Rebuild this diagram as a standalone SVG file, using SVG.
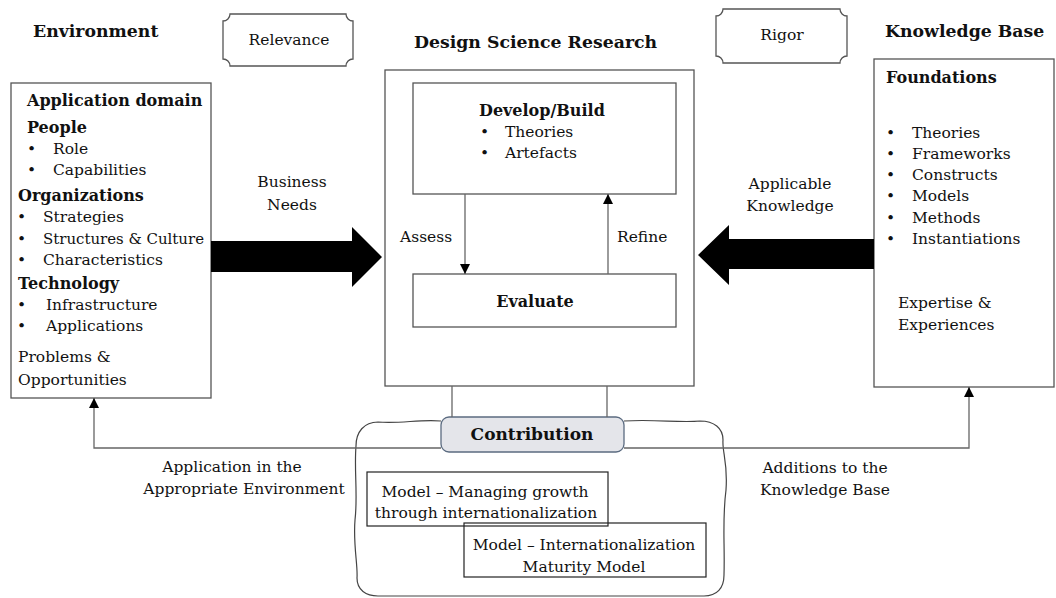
<svg xmlns="http://www.w3.org/2000/svg" width="1056" height="598" viewBox="0 0 1056 598">
  <style>
    text { font-family: "DejaVu Serif", "Liberation Serif", serif; font-size: 15.5px; fill: #111; }
    .b { font-weight: bold; font-size: 16px; }
    .title { font-weight: bold; font-size: 17.3px; }
    .mid { text-anchor: middle; }
    .box { fill: none; stroke: #555; stroke-width: 1.3; }
    .wire { fill: none; stroke: #666; stroke-width: 1.3; }
    .fat { fill: #000; stroke: none; }
  </style>
  <defs>
    <marker id="tip" viewBox="0 0 10 10" refX="10" refY="5" markerWidth="10" markerHeight="10" markerUnits="userSpaceOnUse" orient="auto">
      <path d="M0,0 L10,5 L0,10 Z" fill="#000"/>
    </marker>
  </defs>
  <rect width="1056" height="598" fill="#fff"/>

  <!-- column headings -->
  <g id="headings">
    <text class="title" x="33" y="37">Environment</text>
    <text class="title" x="414" y="48">Design Science Research</text>
    <text class="title" x="885" y="37">Knowledge Base</text>
  </g>

  <!-- plaque labels -->
  <g id="relevance">
    <path class="box" d="M230,14 H346 A7,7 0 0 0 353,21 V59 A7,7 0 0 0 346,66 H230 A7,7 0 0 0 223,59 V21 A7,7 0 0 0 230,14 Z"/>
    <text class="mid" x="289" y="45">Relevance</text>
  </g>
  <g id="rigor">
    <path class="box" d="M723,9 H840 A7,7 0 0 0 847,16 V56 A7,7 0 0 0 840,63 H723 A7,7 0 0 0 716,56 V16 A7,7 0 0 0 723,9 Z"/>
    <text class="mid" x="782" y="40">Rigor</text>
  </g>

  <!-- environment -->
  <g id="environment">
    <rect class="box" x="11" y="83" width="200" height="315"/>
    <text class="b" x="27" y="106">Application domain</text>
    <text class="b" x="27" y="133">People</text>
    <text x="27" y="154">•</text><text x="53" y="154">Role</text>
    <text x="27" y="175">•</text><text x="53" y="175">Capabilities</text>
    <text class="b" x="18" y="201">Organizations</text>
    <text x="17" y="222">•</text><text x="43" y="222">Strategies</text>
    <text x="17" y="244">•</text><text x="43" y="244" textLength="161" lengthAdjust="spacingAndGlyphs">Structures &amp; Culture</text>
    <text x="17" y="265">•</text><text x="43" y="265">Characteristics</text>
    <text class="b" x="18" y="289">Technology</text>
    <text x="17" y="310">•</text><text x="46" y="310">Infrastructure</text>
    <text x="17" y="331">•</text><text x="46" y="331">Applications</text>
    <text x="18" y="362">Problems &amp;</text>
    <text x="18" y="385">Opportunities</text>
  </g>

  <!-- design science research -->
  <g id="dsr">
    <rect class="box" x="385" y="70" width="309" height="316"/>
  </g>
  <g id="develop">
    <rect class="box" x="413" y="83" width="263" height="111"/>
    <text class="b" x="479" y="116">Develop/Build</text>
    <text x="480" y="137">•</text><text x="505" y="137">Theories</text>
    <text x="480" y="158">•</text><text x="505" y="158">Artefacts</text>
  </g>
  <g id="evaluate">
    <rect class="box" x="413" y="274" width="263" height="53"/>
    <text class="b mid" x="535" y="307">Evaluate</text>
  </g>

  <!-- knowledge base -->
  <g id="knowledge">
    <rect class="box" x="874" y="59" width="180" height="328"/>
    <text class="b" x="886" y="83">Foundations</text>
    <text x="886" y="138">•</text><text x="912" y="138">Theories</text>
    <text x="886" y="159">•</text><text x="912" y="159">Frameworks</text>
    <text x="886" y="180">•</text><text x="912" y="180">Constructs</text>
    <text x="886" y="201">•</text><text x="912" y="201">Models</text>
    <text x="886" y="223">•</text><text x="912" y="223">Methods</text>
    <text x="886" y="244">•</text><text x="912" y="244">Instantiations</text>
    <text x="898" y="308">Expertise &amp;</text>
    <text x="898" y="330">Experiences</text>
  </g>

  <!-- contribution area -->
  <g id="contribution">
    <path fill="none" stroke="#444" stroke-width="1.2" d="M441,421 C420,419 400,424 378,422 C364,422 356,432 356,446 C354,470 358,495 355,520 C353,545 358,565 357,578 C357,590 366,596 378,596 L704,596 C717,596 724,588 724,575 C725,545 722,520 726,490 C728,462 722,452 723,440 C723,428 714,421 700,421 C680,423 655,419 624,421"/>
    <rect x="441" y="417" width="183" height="35" rx="8" fill="#e4e5ea" stroke="#5b6b80" stroke-width="1.3"/>
    <text class="b mid" x="532" y="440" style="font-size:17px">Contribution</text>
  </g>
  <g id="model-growth">
    <rect x="367" y="472" width="241" height="54" fill="none" stroke="#222" stroke-width="1.2"/>
    <text class="mid" x="485" y="497">Model – Managing growth</text>
    <text class="mid" x="486" y="518">through internationalization</text>
  </g>
  <g id="model-maturity">
    <rect x="464" y="523" width="242" height="54" fill="none" stroke="#222" stroke-width="1.2"/>
    <text class="mid" x="584" y="550">Model – Internationalization</text>
    <text class="mid" x="584" y="572">Maturity Model</text>
  </g>

  <!-- connectors -->
  <g id="connectors">
    <path class="fat" d="M211,241 H352 V227 L382,257 L352,287 V272 H211 Z"/>
    <path class="fat" d="M874,239 H729 V225 L698,255 L729,285 V269 H874 Z"/>
    <line class="wire" x1="465" y1="194" x2="465" y2="274" marker-end="url(#tip)"/>
    <line class="wire" x1="608" y1="274" x2="608" y2="194" marker-end="url(#tip)"/>
    <line class="wire" x1="452" y1="386" x2="452" y2="417"/>
    <line class="wire" x1="607" y1="386" x2="607" y2="417"/>
    <polyline class="wire" points="441,448 94,448 94,398" marker-end="url(#tip)"/>
    <polyline class="wire" points="624,448 969,448 969,387" marker-end="url(#tip)"/>
  </g>

  <!-- connector labels -->
  <g id="labels">
    <text class="mid" x="292" y="187">Business</text>
    <text class="mid" x="292" y="210">Needs</text>
    <text class="mid" x="790" y="189">Applicable</text>
    <text class="mid" x="790" y="211">Knowledge</text>
    <text x="400" y="242">Assess</text>
    <text x="617" y="242">Refine</text>
    <text class="mid" x="232" y="472">Application in the</text>
    <text class="mid" x="244" y="494">Appropriate Environment</text>
    <text class="mid" x="825" y="473">Additions to the</text>
    <text class="mid" x="825" y="495">Knowledge Base</text>
  </g>
</svg>
